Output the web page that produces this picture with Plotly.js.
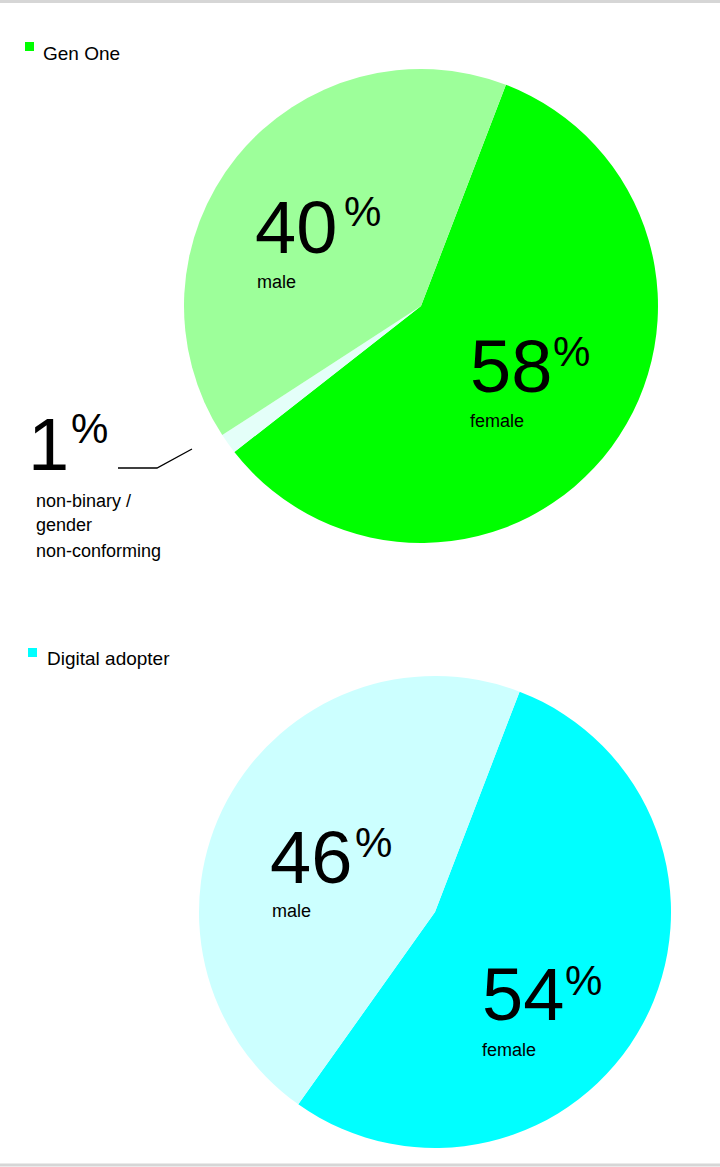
<!DOCTYPE html>
<html>
<head>
<meta charset="utf-8">
<script src="https://cdn.plot.ly/plotly-3.0.1.min.js"></script>
<style>html,body{margin:0;padding:0;background:#fff;}#chart{width:720px;height:1167px;}</style>
</head>
<body>
<div id="chart"></div>
<script>
// ---- data ----
var genOneCategories = ["female", "non-binary / gender non-conforming", "male"];
var genOneShares = [58.6, 1.4, 40.0];          // slice sizes
var genOneLabels = ["58", "1", "40"];           // printed percentages
var genOneColors = ["#00ff00", "#e4fff9", "#9dff9a"];

var digitalCategories = ["female", "male"];
var digitalShares = [54, 46];
var digitalLabels = ["54", "46"];
var digitalColors = ["#00ffff", "#ccffff"];

var seriesNames = ["Gen One", "Digital adopter"];

// ---- helpers ----
var W = 720, H = 1167;
var FONT = "Liberation Sans, Arial, Helvetica, sans-serif";
function px(x){ return x / W; }
function py(y){ return 1 - y / H; }
// text annotation positioned by its left edge and baseline (pixels)
function txt(t, left, baseline, size){
  return {
    text: t, xref: "paper", yref: "paper",
    x: px(left), y: py(baseline - 0.3465 * size),
    xanchor: "left", yanchor: "middle", showarrow: false, align: "left",
    font: {family: FONT, size: size, color: "#000"}
  };
}

var BIG = 74, PCT = 42, SM = 18, LEG = 19;

var annotations = [
  // legend texts
  txt(seriesNames[0], 41, 60, LEG),
  txt(seriesNames[1], 45, 665, LEG),
  // Gen One labels
  txt(genOneLabels[2], 253, 253, BIG), txt("%", 342, 226, PCT), txt(genOneCategories[2], 255, 288, SM),
  txt(genOneLabels[0], 468, 392, BIG), txt("%", 551, 366, PCT), txt(genOneCategories[0], 468, 427, SM),
  txt(genOneLabels[1], 26, 470, BIG), txt("%", 69, 443, PCT),
  txt("non-binary /", 34, 507, SM), txt("gender", 34, 531, SM), txt("non-conforming", 34, 557, SM),
  // Digital adopter labels
  txt(digitalLabels[1], 268, 883, BIG), txt("%", 353, 857, PCT), txt(digitalCategories[1], 270, 917, SM),
  txt(digitalLabels[0], 480, 1020, BIG), txt("%", 563, 995, PCT), txt(digitalCategories[0], 480, 1056, SM)
];

var shapes = [
  // frame lines top & bottom
  {type: "line", xref: "paper", yref: "paper", x0: 0, x1: 1, y0: py(1.5), y1: py(1.5), line: {color: "#d6d6d6", width: 3}},
  {type: "line", xref: "paper", yref: "paper", x0: 0, x1: 1, y0: py(1165), y1: py(1165), line: {color: "#d6d6d6", width: 3}},
  // legend squares
  {type: "rect", xref: "paper", yref: "paper", x0: px(25), x1: px(34), y0: py(51), y1: py(42), fillcolor: genOneColors[0], line: {width: 0}},
  {type: "rect", xref: "paper", yref: "paper", x0: px(28), x1: px(37), y0: py(657), y1: py(648), fillcolor: digitalColors[0], line: {width: 0}},
  // leader line
  {type: "path", xref: "paper", yref: "paper",
   path: "M " + px(118) + " " + py(468) + " L " + px(157) + " " + py(468) + " L " + px(192) + " " + py(449),
   line: {color: "#000", width: 1.3}}
];

var data = [
  {
    type: "pie", values: genOneShares, labels: genOneCategories,
    marker: {colors: genOneColors, line: {width: 0}},
    sort: false, direction: "clockwise", rotation: 21,
    textinfo: "none", hoverinfo: "skip", showlegend: false,
    domain: {x: [px(184), px(658)], y: [py(543), py(69)]}
  },
  {
    type: "pie", values: digitalShares, labels: digitalCategories,
    marker: {colors: digitalColors, line: {width: 0}},
    sort: false, direction: "clockwise", rotation: 21,
    textinfo: "none", hoverinfo: "skip", showlegend: false,
    domain: {x: [px(198), px(672)], y: [py(1148), py(676)]}
  }
];

var layout = {
  width: W, height: H,
  margin: {l: 0, r: 0, t: 0, b: 0},
  paper_bgcolor: "#fff", plot_bgcolor: "#fff",
  showlegend: false,
  annotations: annotations,
  shapes: shapes,
  font: {family: FONT}
};

Plotly.newPlot("chart", data, layout, {displayModeBar: false, staticPlot: true});
</script>
</body>
</html>
